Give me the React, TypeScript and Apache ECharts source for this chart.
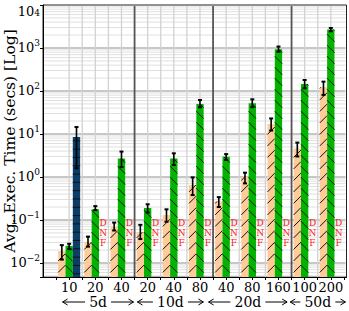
import React, { useEffect, useRef } from 'react';
import * as echarts from 'echarts';

// ---- data ----
const categories = ['10', '20', '40', '20', '40', '80', '40', '80', '160', '100', '200'];
const groupNames = ['5d', '10d', '20d', '50d'];
const groupSizes = [3, 3, 3, 2];
// arrow extents of the group labels (axis units)
const groupArrowStart = [-0.25, 2.61, 5.33, 8.45];
const groupArrowEnd = [2.46, 5.13, 8.33, 10.56];

const orangeMean = [0.019, 0.031, 0.07, 0.052, 0.13, 0.65, 0.27, 1.0, 17, 4.6, 122];
const orangeLow = [0.012, 0.024, 0.057, 0.036, 0.091, 0.38, 0.2, 0.71, 12, 3.0, 81];
const orangeHigh = [0.026, 0.041, 0.087, 0.077, 0.177, 0.98, 0.34, 1.26, 23, 6.3, 165];

const greenMean = [0.025, 0.177, 2.7, 0.19, 2.7, 50, 2.96, 52, 930, 145, 2700];
const greenLow = [0.021, 0.17, 1.7, 0.149, 1.9, 41.8, 2.5, 42, 820, 116, 2450];
const greenHigh = [0.028, 0.21, 3.9, 0.232, 3.55, 61.6, 3.4, 64, 1080, 180, 2920];

const blueMean: (number | null)[] = [8.5, null, null, null, null, null, null, null, null, null, null];
const blueLow: (number | null)[] = [1.6, null, null, null, null, null, null, null, null, null, null];
const blueHigh: (number | null)[] = [14.5, null, null, null, null, null, null, null, null, null, null];

const dnfThird = [false, true, true, true, true, true, true, true, true, true, true];
const dnfLevel = 0.05;

const yMin = 0.00472;
const yMax = 10000;
const yLabel = 'Avg. Exec. Time (secs) [Log]';

const SERIF = "'DejaVu Serif', serif";
const ORANGE = '#ffcc99';
const GREEN = '#00b400';
const BLUE = '#0b3d69';

type Hatch = 'fwd' | 'back' | 'horiz';

function hatchLines(x0: number, x1: number, top: number, bottom: number, kind: Hatch, spacing: number) {
  const w = x1 - x0;
  const out: any[] = [];
  for (let yb = bottom - spacing * 0.4; yb > top; yb -= spacing) {
    if (kind === 'horiz') {
      out.push([x0, yb, x1, yb]);
      continue;
    }
    const ya = yb - w;
    if (kind === 'fwd') {
      let tx = x1;
      let ty = ya;
      if (ya < top) {
        const f = (top - ya) / w;
        tx = x1 - f * w;
        ty = top;
      }
      out.push([x0, yb, tx, ty]);
    } else {
      let tx = x0;
      let ty = ya;
      if (ya < top) {
        const f = (top - ya) / w;
        tx = x0 + f * w;
        ty = top;
      }
      out.push([tx, ty, x1, yb]);
    }
  }
  return out;
}

function barRenderer(slot: number, fill: string, hatch: Hatch, spacing: number) {
  return (params: any, api: any) => {
    const xi = api.value(0);
    const v = api.value(1);
    const lo = api.value(2);
    const hi = api.value(3);
    const cs = params.coordSys;
    const p = api.coord([xi, v]);
    const unit = api.coord([xi + 1, v])[0] - p[0];
    const w = unit * 0.28;
    const cx = p[0] + (slot - 1) * w;
    const top = p[1];
    const bottom = cs.y + cs.height;
    const x0 = cx - w / 2;
    const x1 = cx + w / 2;
    const children: any[] = [
      { type: 'rect', shape: { x: x0, y: top, width: w, height: bottom - top }, style: { fill } },
    ];
    hatchLines(x0, x1, top, bottom, hatch, spacing).forEach((l) => {
      children.push({
        type: 'line',
        shape: { x1: l[0], y1: l[1], x2: l[2], y2: l[3] },
        style: { stroke: '#111', lineWidth: 1 },
      });
    });
    const yLo = api.coord([xi, lo])[1];
    const yHi = api.coord([xi, hi])[1];
    children.push({ type: 'line', shape: { x1: cx, y1: yHi, x2: cx, y2: yLo }, style: { stroke: '#000', lineWidth: 1.6 } });
    children.push({ type: 'line', shape: { x1: cx - 2, y1: yHi, x2: cx + 2, y2: yHi }, style: { stroke: '#000', lineWidth: 2 } });
    children.push({ type: 'line', shape: { x1: cx - 2, y1: yLo, x2: cx + 2, y2: yLo }, style: { stroke: '#000', lineWidth: 2 } });
    return { type: 'group', children };
  };
}

function buildBarData(mean: (number | null)[], low: (number | null)[], high: (number | null)[]) {
  const out: any[] = [];
  mean.forEach((m, i) => {
    if (m != null) out.push([i, m, low[i], high[i]]);
  });
  return out;
}

export default function App() {
  const ref = useRef<HTMLDivElement>(null);
  useEffect(() => {
    if (!ref.current) return;
    const chart = echarts.init(ref.current, undefined, { renderer: 'svg' });

    const minorY: number[] = [];
    for (let d = -3; d <= 3; d++) {
      for (let m = 2; m <= 9; m++) {
        const val = m * Math.pow(10, d);
        if (val > yMin && val < yMax) minorY.push(val);
      }
    }
    const majorY = [0.01, 0.1, 1, 10, 100, 1000];
    const boundaries: number[] = [];
    let acc = 0;
    groupSizes.slice(0, -1).forEach((s) => {
      acc += s;
      boundaries.push(acc - 0.5);
    });
    const vGrid: number[] = [];
    for (let i = 0; i < categories.length; i++) {
      vGrid.push(i);
      if (i < categories.length - 1 && boundaries.indexOf(i + 0.5) < 0) vGrid.push(i + 0.5);
    }

    const hLine = (color: string, width: number) => (params: any, api: any) => {
      const cs = params.coordSys;
      const y = api.coord([0, api.value(1)])[1];
      return {
        type: 'line',
        shape: { x1: cs.x + 1, y1: y, x2: cs.x + cs.width - 1, y2: y },
        style: { stroke: color, lineWidth: width },
      };
    };
    const vLine = (color: string, width: number) => (params: any, api: any) => {
      const cs = params.coordSys;
      const x = api.coord([api.value(0), 1])[0];
      return {
        type: 'line',
        shape: { x1: x, y1: cs.y + 1, x2: x, y2: cs.y + cs.height },
        style: { stroke: color, lineWidth: width },
      };
    };

    const groupData = groupNames.map((g, i) => [groupArrowStart[i], groupArrowEnd[i], i]);

    const supFmt = (v: number) => {
      const e = Math.log10(v);
      const r = Math.round(e);
      if (Math.abs(e - r) > 1e-6) return '';
      const s = r < 0 ? '\u2212' + Math.abs(r) : String(r);
      if (v >= yMax * 0.999) return `{tb|10}{ts|${s}}`;
      return `{b|10}{s|${s}}`;
    };

    chart.setOption({
      animation: false,
      grid: {
        left: 43,
        right: 2.5,
        top: 5,
        bottom: 34,
        show: true,
        borderColor: '#222',
        borderWidth: 1,
        backgroundColor: '#fff',
        containLabel: false,
        outerBoundsMode: 'none',
      },
      xAxis: {
        type: 'value',
        min: -1,
        max: 10.6,
        interval: 0.5,
        axisLine: { show: true, onZero: false, lineStyle: { color: '#000', width: 1 } },
        axisTick: { show: true, length: 3, lineStyle: { color: '#000' } },
        splitLine: { show: false },
        axisLabel: {
          margin: 4,
          color: '#000',
          fontFamily: SERIF,
          fontSize: 13,
          showMinLabel: false,
          showMaxLabel: false,
          hideOverlap: false,
          formatter: (v: number) => (Math.abs(v - Math.round(v)) < 1e-6 && v >= 0 ? categories[Math.round(v)] ?? '' : ''),
        },
      },
      yAxis: {
        type: 'log',
        min: yMin,
        max: yMax,
        name: yLabel,
        nameLocation: 'middle',
        nameGap: 25,
        nameMoveOverlap: false,
        nameTextStyle: { color: '#000', fontFamily: SERIF, fontSize: 15.5 },
        axisLine: { show: true, onZero: false, lineStyle: { color: '#000', width: 1 } },
        axisTick: { show: true, length: 3, lineStyle: { color: '#000' } },
        splitLine: { show: false },
        axisLabel: {
          margin: 3,
          color: '#000',
          formatter: supFmt,
          rich: {
            b: { fontFamily: SERIF, fontSize: 13, color: '#000', lineHeight: 18 },
            s: { fontFamily: SERIF, fontSize: 9, color: '#000', lineHeight: 9, verticalAlign: 'top' },
            tb: { fontFamily: SERIF, fontSize: 13, color: '#000', lineHeight: 18, padding: [12, 0, 0, 0] },
            ts: { fontFamily: SERIF, fontSize: 9, color: '#000', lineHeight: 9, verticalAlign: 'top', padding: [12, 0, 0, 0] },
          },
        },
      },
      series: [
        {
          type: 'custom',
          z: 1,
          silent: true,
          renderItem: hLine('#e0e0e0', 1),
          data: minorY.map((v) => [0, v]),
        },
        {
          type: 'custom',
          z: 1,
          silent: true,
          renderItem: hLine('#b4b4b4', 1.6),
          data: majorY.map((v) => [0, v]),
        },
        {
          type: 'custom',
          z: 1,
          silent: true,
          renderItem: vLine('#d2d2d2', 1.3),
          data: vGrid.map((x) => [x, 1]),
        },
        {
          type: 'custom',
          z: 1,
          silent: true,
          renderItem: vLine('#555', 1.8),
          data: boundaries.map((x) => [x, 1]),
        },
        {
          type: 'custom',
          z: 3,
          renderItem: barRenderer(0, ORANGE, 'fwd', 11.5),
          data: buildBarData(orangeMean, orangeLow, orangeHigh),
        },
        {
          type: 'custom',
          z: 3,
          renderItem: barRenderer(1, GREEN, 'back', 11),
          data: buildBarData(greenMean, greenLow, greenHigh),
        },
        {
          type: 'custom',
          z: 3,
          renderItem: barRenderer(2, BLUE, 'horiz', 8.3),
          data: buildBarData(blueMean, blueLow, blueHigh),
        },
        {
          type: 'custom',
          z: 3,
          renderItem: (params: any, api: any) => {
            const xi = api.value(0);
            const p = api.coord([xi, api.value(1)]);
            const unit = api.coord([xi + 1, api.value(1)])[0] - p[0];
            return {
              type: 'text',
              x: p[0] + unit * 0.3,
              y: p[1],
              style: {
                text: 'D\nN\nF',
                fill: '#ff2020',
                font: `9px ${SERIF}`,
                lineHeight: 10,
                align: 'center',
                verticalAlign: 'middle',
              },
            };
          },
          data: dnfThird.map((d, i) => (d ? [i, dnfLevel] : null)).filter((d) => d),
        },
        {
          type: 'custom',
          z: 3,
          clip: false,
          renderItem: (params: any, api: any) => {
            const cs = params.coordSys;
            const xa = api.coord([api.value(0), yMin])[0];
            const xb = api.coord([api.value(1), yMin])[0];
            const gi = api.value(2);
            const y = cs.y + cs.height + 25;
            const mid = (xa + xb) / 2;
            const label = groupNames[gi];
            const half = label.length * 4.5 + 4;
            const st = { stroke: '#000', lineWidth: 1 };
            return {
              type: 'group',
              children: [
                { type: 'line', shape: { x1: xa, y1: y, x2: mid - half, y2: y }, style: st },
                { type: 'line', shape: { x1: mid + half, y1: y, x2: xb, y2: y }, style: st },
                { type: 'polyline', shape: { points: [[xa + 5, y - 3], [xa, y], [xa + 5, y + 3]] }, style: { ...st, fill: 'none' } },
                { type: 'polyline', shape: { points: [[xb - 5, y - 3], [xb, y], [xb - 5, y + 3]] }, style: { ...st, fill: 'none' } },
                {
                  type: 'text',
                  x: mid,
                  y,
                  style: {
                    text: label,
                    fill: '#000',
                    font: `14px ${SERIF}`,
                    align: 'center',
                    verticalAlign: 'middle',
                  },
                },
              ],
            };
          },
          data: groupData,
        },
      ],
    });
    return () => chart.dispose();
  }, []);
  return <div ref={ref} style={{ width: 349, height: 311, position: 'absolute', left: 0, top: 0 }} />;
}
